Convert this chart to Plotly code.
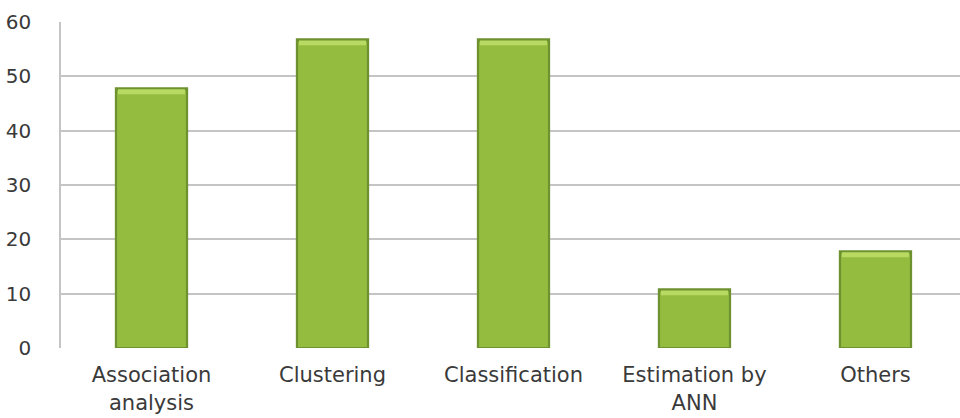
import plotly.graph_objects as go

categories = ["Association<br>analysis", "Clustering", "Classification", "Estimation by<br>ANN", "Others"]
counts = [48, 57, 57, 11, 18]
y_ticks = [0, 10, 20, 30, 40, 50, 60]

edge_color = "#6e922f"
body_color = "#94bd40"
top_color = "#b8da62"

fig = go.Figure()

# Dark rim of each bar
fig.add_trace(go.Bar(x=categories, y=counts, width=0.405,
                     marker=dict(color=edge_color, line=dict(width=0)),
                     hoverinfo="skip"))
# Main body
fig.add_trace(go.Bar(x=categories, y=[v - 0.8 for v in counts], base=[0.2] * len(counts),
                     width=0.38,
                     marker=dict(color=body_color, line=dict(width=0))))
# Bevelled highlight along the top edge
fig.add_trace(go.Bar(x=categories, y=[0.9] * len(counts), base=[v - 1.3 for v in counts],
                     width=0.37,
                     marker=dict(color=top_color, line=dict(width=0)),
                     hoverinfo="skip"))

font_family = "DejaVu Sans, Open Sans, sans-serif"
text_color = "#3a3a3a"

fig.update_layout(
    width=960, height=418,
    margin=dict(l=61, r=0, t=22, b=70),
    paper_bgcolor="white", plot_bgcolor="white",
    barmode="overlay", showlegend=False,
    font=dict(family=font_family, size=20, color=text_color),
)
fig.update_xaxes(
    range=[-0.5, 4.467], showgrid=False, zeroline=False, automargin=False,
    ticks="outside", ticklen=0, tickcolor="white", ticklabelstandoff=8,
    tickfont=dict(size=21, color=text_color),
)
fig.update_yaxes(
    range=[0, 60], tickvals=y_ticks, automargin=False,
    showgrid=True, gridcolor="#c4c4c4", gridwidth=1.6,
    zeroline=False, showline=True, linecolor="#c4c4c4", linewidth=1.6,
    ticks="outside", ticklen=0, tickcolor="white", ticklabelstandoff=24,
    tickfont=dict(size=20, color=text_color),
)

fig.write_html("out.html")
